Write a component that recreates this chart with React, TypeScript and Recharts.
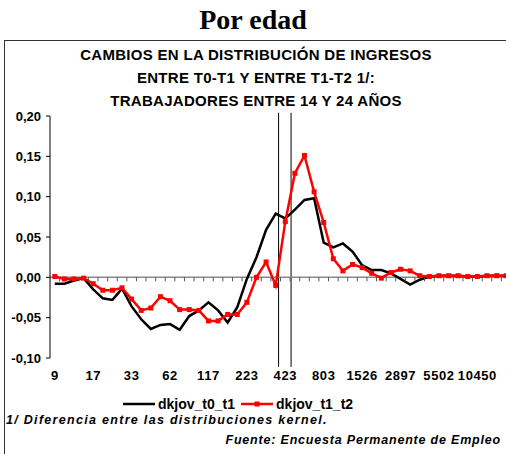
import { ComposedChart, Line, XAxis, YAxis, ReferenceLine, Legend } from 'recharts'

const FONT = "'Liberation Sans', Arial, sans-serif"

// ingreso (escala logaritmica), una categoria por punto
const categories = [
  '9', '11', '12', '14', '17', '20', '23', '28', '33', '38', '45', '53',
  '62', '73', '85', '100', '117', '137', '161', '190', '223', '261', '306', '361',
  '423', '496', '582', '685', '803', '941', '1103', '1296', '1526', '1790', '2097', '2460',
  '2897', '3397', '3985', '4675', '5502', '6450', '7564', '8875', '10450', '12250', '14360', '16840',
]
const labelIdx = [0, 4, 8, 12, 16, 20, 24, 28, 32, 36, 40, 44]

const dkjovT0T1 = [
  -0.008, -0.008, -0.004, -0.001, -0.015, -0.026, -0.028, -0.014, -0.036, -0.052, -0.064, -0.059,
  -0.058, -0.065, -0.048, -0.041, -0.031, -0.041, -0.056, -0.037, -0.002, 0.025, 0.059, 0.079,
  0.073, 0.084, 0.096, 0.098, 0.043, 0.037, 0.042, 0.032, 0.015, 0.009, 0.009, 0.005,
  -0.002, -0.009, -0.003, 0.001, 0.002, 0.002, 0.002, 0.001, 0.001, 0.002, 0.002, 0.002,
]
const dkjovT1T2 = [
  0.001, -0.002, -0.002, -0.001, -0.008, -0.016, -0.016, -0.013, -0.027, -0.041, -0.038, -0.024,
  -0.029, -0.040, -0.040, -0.041, -0.054, -0.054, -0.046, -0.046, -0.031, 0.000, 0.019, -0.010,
  0.069, 0.129, 0.151, 0.106, 0.068, 0.023, 0.008, 0.016, 0.012, 0.005, -0.001, 0.006,
  0.010, 0.008, 0.002, 0.001, 0.002, 0.002, 0.002, 0.001, 0.001, 0.002, 0.002, 0.002,
]
const yTicks = [-0.1, -0.05, 0, 0.05, 0.1, 0.15, 0.2]
// lineas verticales (tramo del salario minimo)
const bandLimits = [23.3, 24.6]

const data = categories.map((cat, i) => ({ i, cat, t0: dkjovT0T1[i], t1: dkjovT1T2[i] }))
// eje en cero con marcas entre categorias
const zeroAxis = Array.from({ length: categories.length + 1 }, (_, k) => ({ i: k - 0.5, z: 0 }))

const tickStyle = { fill: '#000', fontSize: 13, fontWeight: 'bold', fontFamily: FONT }

const RedSquare = (props: any) => {
  const { cx, cy } = props
  if (cx == null || cy == null) return null
  return <rect key={props.index} x={cx - 2.5} y={cy - 2.5} width={5} height={5} fill="#ff0000" />
}

const AxisMark = (props: any) => {
  const { cx, cy } = props
  if (cx == null || cy == null) return null
  return <line key={props.index} x1={cx} y1={cy} x2={cx} y2={cy + 4} stroke="#555" strokeWidth={1} />
}

const LegendContent = (props: any) => {
  const items = (props.payload || []).filter((p: any) => p.dataKey !== 'z')
  return (
    <div style={{ display: 'flex', alignItems: 'center', fontFamily: FONT, fontSize: 14, lineHeight: '16px', fontWeight: 'bold', color: '#000' }}>
      {items.map((p: any) => (
        <div key={p.value} style={{ display: 'flex', alignItems: 'center', marginRight: 6 }}>
          <svg width={32} height={8} style={{ marginRight: 3 }}>
            <line x1={0} y1={4} x2={32} y2={4} stroke={p.color} strokeWidth={2.5} />
            {p.dataKey === 't1' && <rect x={13.5} y={1.5} width={5} height={5} fill={p.color} />}
          </svg>
          <span>{p.value}</span>
        </div>
      ))}
    </div>
  )
}

export default function App() {
  return (
    <div style={{ position: 'absolute', left: 0, top: 0, width: 506, height: 454, overflow: 'hidden', background: '#fff' }}>
      <div style={{ position: 'absolute', left: 0, top: 4, width: 506, textAlign: 'center', fontFamily: "'Liberation Serif', 'Times New Roman', serif", fontWeight: 'bold', fontSize: 28, lineHeight: '32px' }}>
        Por edad
      </div>
      <div style={{ position: 'absolute', left: 4, top: 40, width: 600, height: 500, borderLeft: '1px solid #333', borderTop: '1px solid #333' }} />
      <div style={{ position: 'absolute', left: 0, top: 43, width: 512, textAlign: 'center', fontFamily: FONT, fontWeight: 'bold', fontSize: 15, letterSpacing: '0.3px', lineHeight: '23px' }}>
        CAMBIOS EN LA DISTRIBUCIÓN DE INGRESOS<br />
        ENTRE T0-T1 Y ENTRE T1-T2 1/:<br />
        TRABAJADORES ENTRE 14 Y 24 AÑOS
      </div>
      <div style={{ position: 'absolute', left: 0, top: 0 }}>
        <ComposedChart width={521} height={454} data={data} margin={{ top: 116, right: 10, bottom: 66, left: 0 }}>
          <XAxis
            type="number"
            dataKey="i"
            domain={[-0.5, categories.length - 0.5]}
            allowDataOverflow
            ticks={labelIdx}
            tickFormatter={(v: number) => categories[v]}
            axisLine={false}
            tickLine={false}
            tickMargin={7}
            height={30}
            tick={{ ...tickStyle, letterSpacing: '0.6px' }}
            interval={0}
          />
          <YAxis
            domain={[-0.1, 0.2]}
            ticks={yTicks}
            tickFormatter={(v: number) => v.toFixed(2).replace('.', ',')}
            width={50}
            axisLine={{ stroke: '#000', strokeWidth: 1 }}
            tickLine={{ stroke: '#000' }}
            tickSize={4}
            tickMargin={5}
            tick={tickStyle}
            allowDataOverflow
          />
          {bandLimits.map((x) => (
            <ReferenceLine
              key={x}
              segment={[{ x, y: 0.204 }, { x, y: -0.111 }]}
              stroke="#000"
              strokeWidth={1}
              ifOverflow="visible"
            />
          ))}
          <Line
            data={zeroAxis}
            dataKey="z"
            stroke="#888"
            strokeWidth={1.5}
            dot={AxisMark}
            legendType="none"
            isAnimationActive={false}
          />
          <Line
            dataKey="t0"
            name="dkjov_t0_t1"
            stroke="#000"
            strokeWidth={2.5}
            dot={false}
            isAnimationActive={false}
          />
          <Line
            dataKey="t1"
            name="dkjov_t1_t2"
            stroke="#ff0000"
            strokeWidth={2.5}
            dot={RedSquare}
            isAnimationActive={false}
          />
          <Legend
            content={LegendContent}
            verticalAlign="middle"
            wrapperStyle={{ position: 'absolute', top: 396, left: 123, width: 'auto' }}
          />
        </ComposedChart>
      </div>
      <div style={{ position: 'absolute', left: 6, top: 413, fontFamily: FONT, fontStyle: 'italic', fontWeight: 'bold', fontSize: 12.5, letterSpacing: '1.3px', whiteSpace: 'nowrap' }}>
        1/ Diferencia entre las distribuciones kernel.
      </div>
      <div style={{ position: 'absolute', right: 5, top: 433, fontFamily: FONT, fontStyle: 'italic', fontWeight: 'bold', fontSize: 12.5, letterSpacing: '0.8px', whiteSpace: 'nowrap' }}>
        Fuente: Encuesta Permanente de Empleo
      </div>
    </div>
  )
}
